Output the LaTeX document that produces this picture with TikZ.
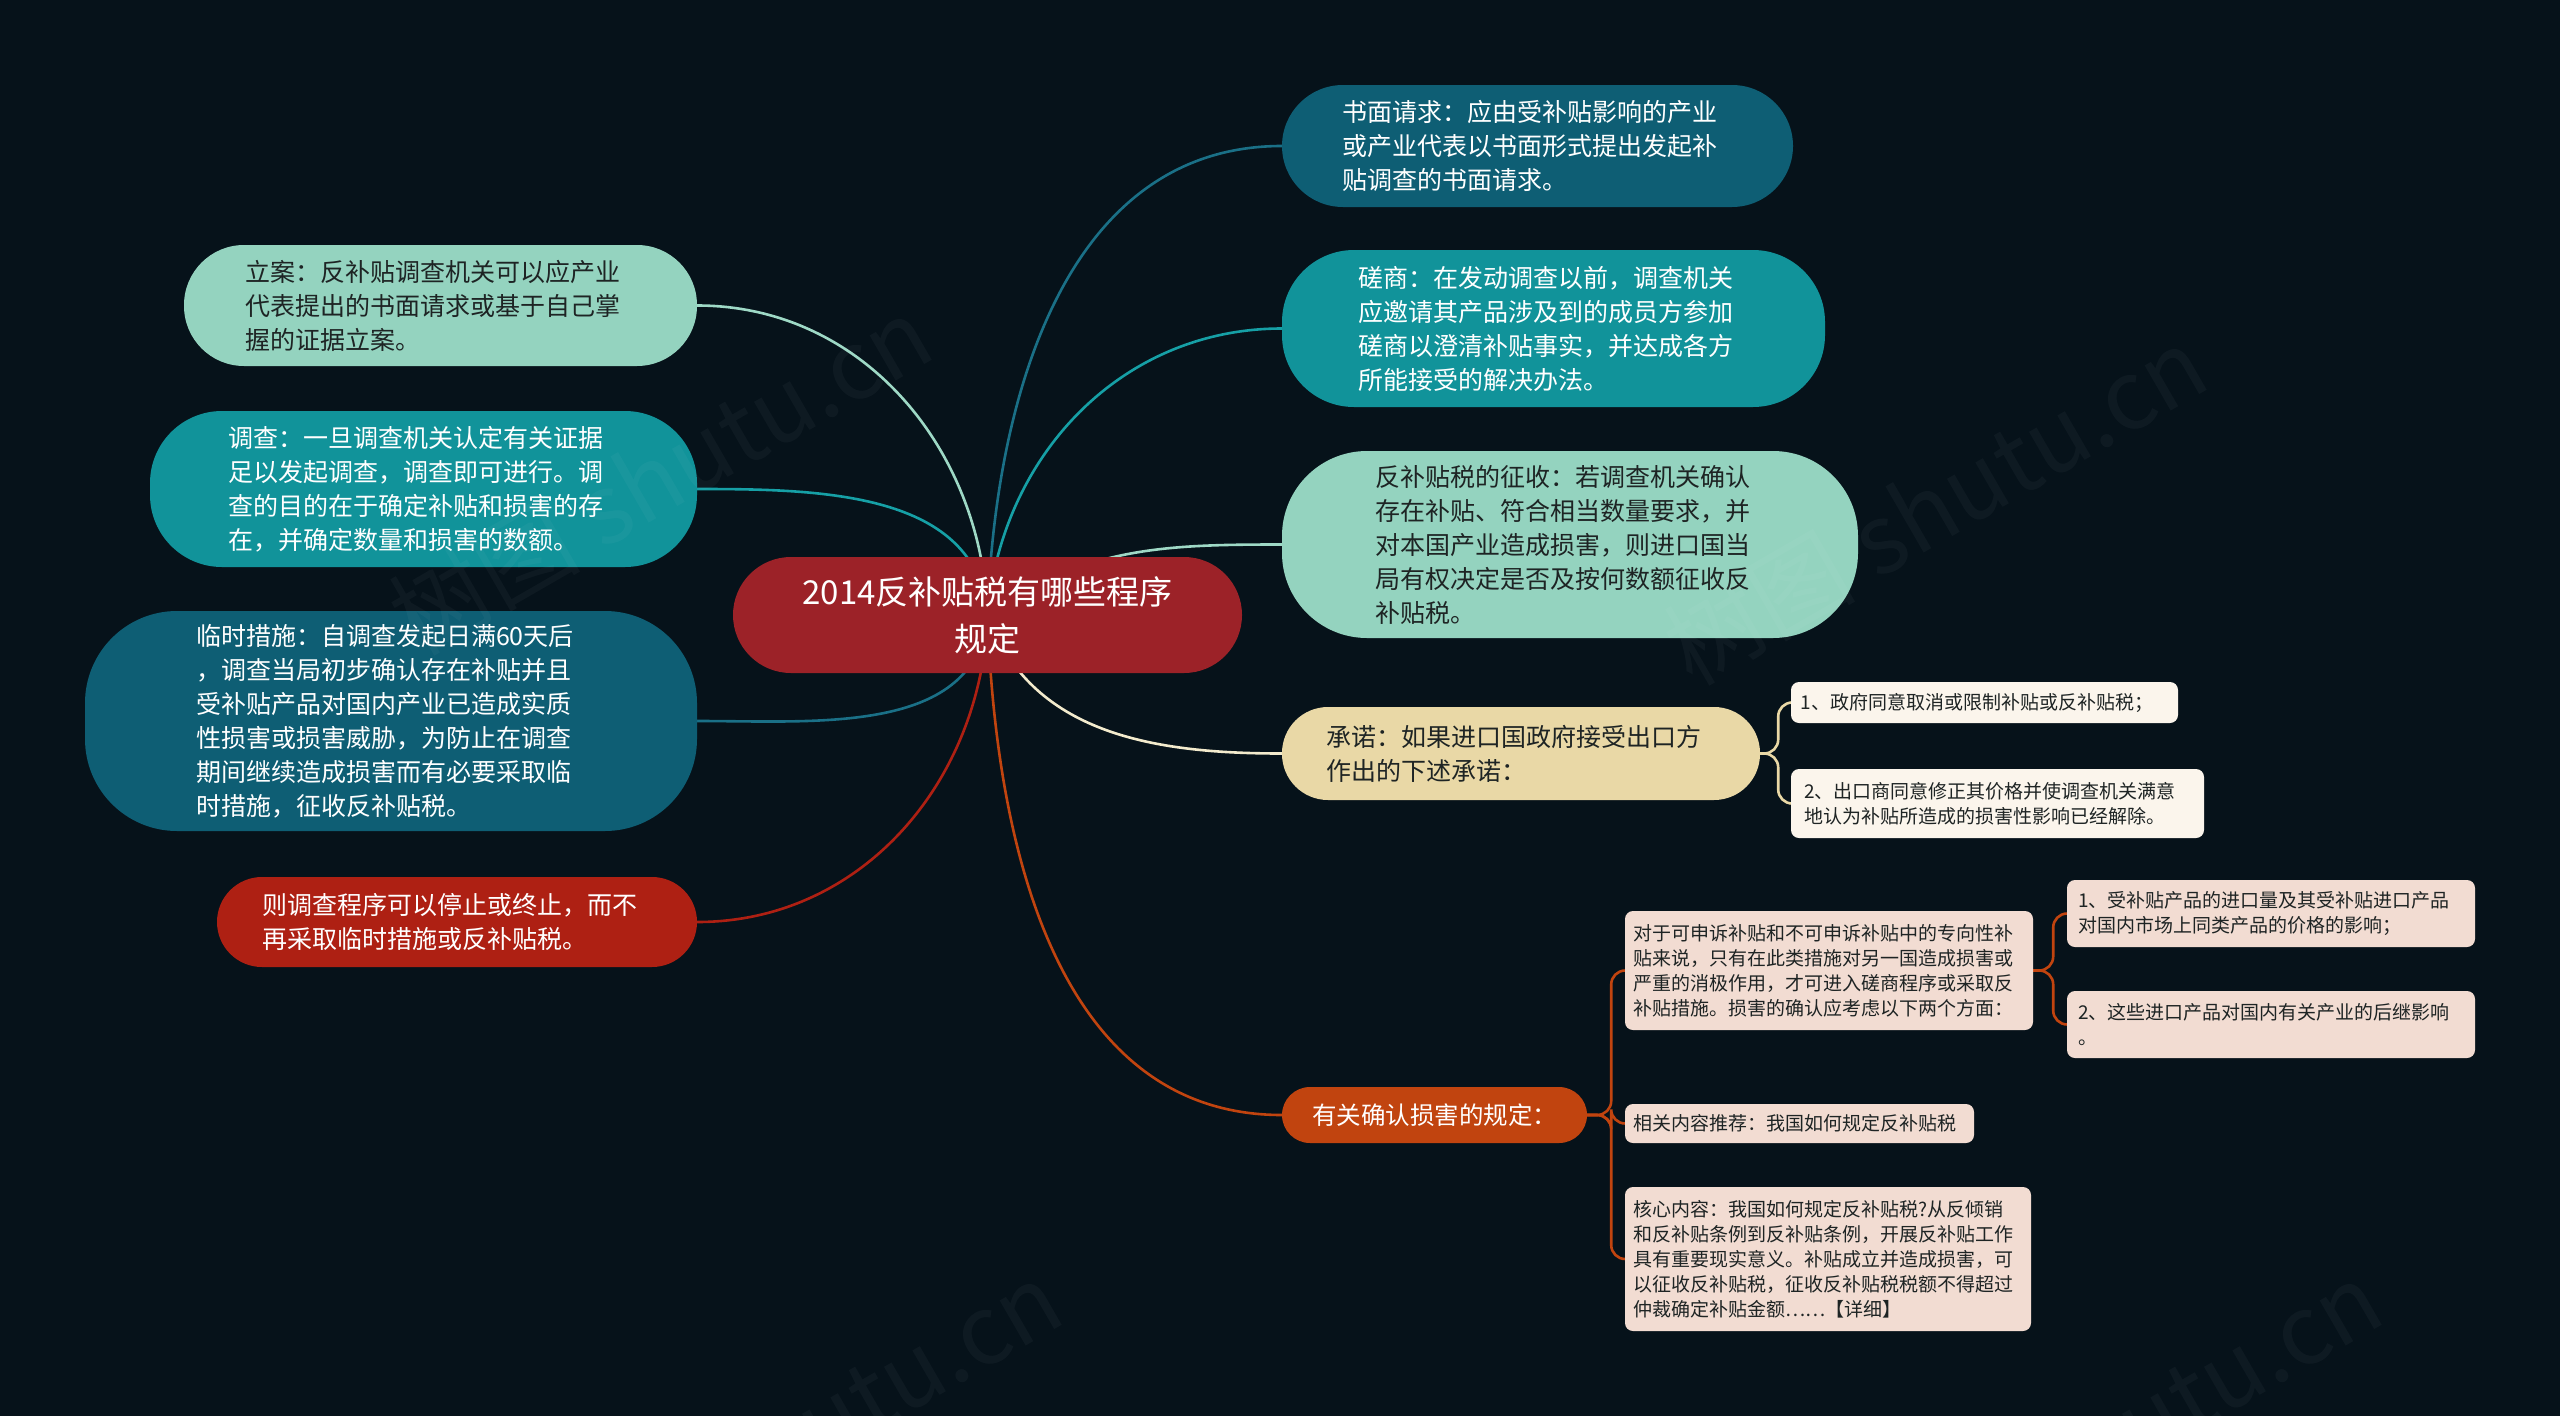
\documentclass[tikz,border=0pt]{standalone}
\usepackage{fontspec}
\setmainfont{Noto Sans CJK SC}
\definecolor{bgc}{HTML}{06121A}
\definecolor{cRoot}{HTML}{9C2228}
\definecolor{cDark}{HTML}{0E5E74}
\definecolor{cTeal}{HTML}{11939A}
\definecolor{cMint}{HTML}{94D3BF}
\definecolor{cBeige}{HTML}{E9D8A6}
\definecolor{cOrange}{HTML}{C1440F}
\definecolor{cRed}{HTML}{AE2013}
\definecolor{cCream}{HTML}{FBF5EC}
\definecolor{cPeach}{HTML}{F2DCD2}
\definecolor{cText}{HTML}{1E2424}
\definecolor{lDark}{HTML}{1A7087}
\definecolor{lTeal}{HTML}{16A0A6}
\definecolor{lMint}{HTML}{9ED9C6}
\definecolor{lCream}{HTML}{F3EBCD}
\pgfdeclarelayer{bg}
\pgfdeclarelayer{edges}
\pgfsetlayers{bg,edges,main}
\tikzset{
  lvone/.style={rectangle, inner sep=0pt, align=left, text width=390pt,
    font=\fontsize{25pt}{34pt}\selectfont},
  lvtwo/.style={rectangle, rounded corners=8pt, inner sep=0pt, align=left,
    font=\fontsize{19pt}{25pt}\selectfont, text=cText},
  edge/.style={line width=2.6pt},
  brk/.style={line width=2.6pt, rounded corners=14pt},
  wmark/.style={text=white, opacity=0.035, font=\fontsize{96pt}{100pt}\selectfont, rotate=30}
}
\begin{document}
\begin{tikzpicture}[x=1pt,y=-1pt]
\useasboundingbox (0,0) rectangle (2560,1416);
\begin{pgfonlayer}{bg}
\fill[bgc] (0,0) rectangle (2560,1416);
\end{pgfonlayer}

% root
\node[rectangle, fill=cRoot, text=white, minimum width=509pt, minimum height=116pt,
  rounded corners=58pt, align=center, font=\fontsize{33pt}{47pt}\selectfont]
  (ct) at (987.5,615) {2014反补贴税有哪些程序\\规定};

% right branch
\node[lvone, fill=cDark, text=white, minimum width=511pt, minimum height=122pt,
  rounded corners=61pt] (sm) at (1537.5,146)
  {书面请求：应由受补贴影响的产业\\或产业代表以书面形式提出发起补\\贴调查的书面请求。};
\node[lvone, fill=cTeal, text=white, minimum width=543pt, minimum height=157pt,
  rounded corners=72pt] (cs) at (1553.5,328.5)
  {磋商：在发动调查以前，调查机关\\应邀请其产品涉及到的成员方参加\\磋商以澄清补贴事实，并达成各方\\所能接受的解决办法。};
\node[lvone, fill=cMint, text=cText, minimum width=576pt, minimum height=187pt,
  rounded corners=85pt] (zs) at (1570,544.5)
  {反补贴税的征收：若调查机关确认\\存在补贴、符合相当数量要求，并\\对本国产业造成损害，则进口国当\\局有权决定是否及按何数额征收反\\补贴税。};
\node[lvone, fill=cBeige, text=cText, minimum width=478pt, minimum height=93pt,
  rounded corners=46pt] (cn) at (1521,753.5)
  {承诺：如果进口国政府接受出口方\\作出的下述承诺：};
\node[rectangle, fill=cOrange, text=white, minimum width=305pt, minimum height=56pt,
  rounded corners=28pt, inner sep=0pt, font=\fontsize{24.5pt}{34pt}\selectfont]
  (yg) at (1434.5,1115) {有关确认损害的规定：};

% children of 承诺
\node[lvtwo, fill=cCream, minimum width=387pt, minimum height=41pt, text width=368pt]
  (cn1) at (1984.5,702.5) {1、政府同意取消或限制补贴或反补贴税；};
\node[lvtwo, fill=cCream, minimum width=413pt, minimum height=69pt, text width=387pt]
  (cn2) at (1997.5,803.5) {2、出口商同意修正其价格并使调查机关满意\\地认为补贴所造成的损害性影响已经解除。};

% children of 有关确认损害的规定
\node[lvtwo, fill=cPeach, minimum width=408pt, minimum height=119pt, text width=392pt]
  (dy) at (1829,970.5) {对于可申诉补贴和不可申诉补贴中的专向性补\\贴来说，只有在此类措施对另一国造成损害或\\严重的消极作用，才可进入磋商程序或采取反\\补贴措施。损害的确认应考虑以下两个方面：};
\node[lvtwo, fill=cPeach, minimum width=349pt, minimum height=39pt, text width=333pt]
  (xg) at (1799.5,1123.5) {相关内容推荐：我国如何规定反补贴税};
\node[lvtwo, fill=cPeach, minimum width=406pt, minimum height=144pt, text width=390pt]
  (hx) at (1828,1259) {核心内容：我国如何规定反补贴税?从反倾销\\和反补贴条例到反补贴条例，开展反补贴工作\\具有重要现实意义。补贴成立并造成损害，可\\以征收反补贴税，征收反补贴税税额不得超过\\仲裁确定补贴金额……【详细】};
\node[lvtwo, fill=cPeach, minimum width=408pt, minimum height=67pt, text width=386pt]
  (d1) at (2271,913.5) {1、受补贴产品的进口量及其受补贴进口产品\\对国内市场上同类产品的价格的影响；};
\node[lvtwo, fill=cPeach, minimum width=408pt, minimum height=67pt, text width=386pt]
  (d2) at (2271,1024.5) {2、这些进口产品对国内有关产业的后继影响\\。};

% left branch
\node[lvone, fill=cMint, text=cText, minimum width=513pt, minimum height=121pt,
  rounded corners=60pt] (la) at (440.5,305.5)
  {立案：反补贴调查机关可以应产业\\代表提出的书面请求或基于自己掌\\握的证据立案。};
\node[lvone, fill=cTeal, text=white, minimum width=547pt, minimum height=156pt,
  rounded corners=72pt] (dc) at (423.5,489)
  {调查：一旦调查机关认定有关证据\\足以发起调查，调查即可进行。调\\查的目的在于确定补贴和损害的存\\在，并确定数量和损害的数额。};
\node[lvone, fill=cDark, text=white, minimum width=612pt, minimum height=220pt,
  rounded corners=92pt] (ls) at (391,721)
  {临时措施：自调查发起日满60天后\\，调查当局初步确认存在补贴并且\\受补贴产品对国内产业已造成实质\\性损害或损害威胁，为防止在调查\\期间继续造成损害而有必要采取临\\时措施，征收反补贴税。};
\node[lvone, fill=cRed, text=white, minimum width=480pt, minimum height=90pt,
  rounded corners=45pt] (zd) at (457,922)
  {则调查程序可以停止或终止，而不\\再采取临时措施或反补贴税。};

% connectors
\begin{pgfonlayer}{edges}
\draw[edge, lDark]  (ct.center) to[out=88,in=180] (sm.west);
\draw[edge, lTeal]  (ct.center) to[out=85,in=180] (cs.west);
\draw[edge, lMint]  (ct.center) to[out=35,in=180] (zs.west);
\draw[edge, lCream] (ct.center) to[out=-70,in=180] (cn.west);
\draw[edge, cOrange] (ct.center) to[out=-88,in=180] (yg.west);
\draw[edge, lMint]  (ct.center) to[out=92,in=0] (la.east);
\draw[edge, lTeal]  (ct.center) to[out=95,in=0] (dc.east);
\draw[edge, lDark]  (ct.center) to[out=-95,in=0] (ls.east);
\draw[edge, cRed]   (ct.center) to[out=-92,in=0] (zd.east);

\draw[brk, cBeige] (cn.east) -- ++(18,0) |- (cn1.west);
\draw[brk, cBeige] (cn.east) -- ++(18,0) |- (cn2.west);
\draw[brk, cOrange] (yg.east) -- ++(24,0) |- (dy.west);
\draw[brk, cOrange] (yg.east) -- ++(24,0) |- (xg.west);
\draw[brk, cOrange] (yg.east) -- ++(24,0) |- (hx.west);
\draw[brk, cOrange] (dy.east) -- ++(20,0) |- (d1.west);
\draw[brk, cOrange] (dy.east) -- ++(20,0) |- (d2.west);
\end{pgfonlayer}

% watermarks
\begin{scope}
\clip (0,0) rectangle (2560,1416);
\node[wmark] (w1) at (660,475) {树图 shutu.cn};
\node[wmark] (w2) at (1935,505) {树图 shutu.cn};
\node[wmark] (w3) at (790,1440) {树图 shutu.cn};
\node[wmark] (w4) at (2110,1440) {树图 shutu.cn};
\end{scope}
\end{tikzpicture}
\end{document}
